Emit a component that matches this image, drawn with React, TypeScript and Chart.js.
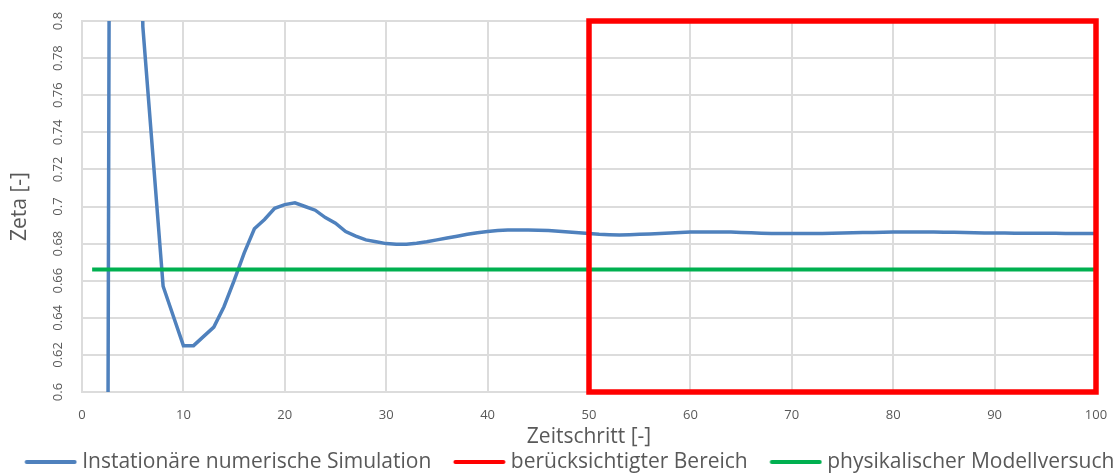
import React, { useEffect, useRef } from 'react';
import { Chart, registerables } from 'chart.js';

Chart.register(...registerables);

// ---------- data ----------
const simulationSteps = [
  2, 3, 4, 5, 6, 7, 8, 9, 10, 11, 12, 13, 14, 15, 16, 17, 18, 19, 20, 21,
  22, 23, 24, 25, 26, 27, 28, 29, 30, 31, 32, 33, 34, 35, 36, 37, 38, 39, 40, 41,
  42, 43, 44, 45, 46, 47, 48, 49, 50, 51, 52, 53, 54, 55, 56, 57, 58, 59, 60, 61,
  62, 63, 64, 65, 66, 67, 68, 69, 70, 71, 72, 73, 74, 75, 76, 77, 78, 79, 80, 81,
  82, 83, 84, 85, 86, 87, 88, 89, 90, 91, 92, 93, 94, 95, 96, 97, 98, 99, 100,
];
const simulationZeta = [
  -0.54, 1.46, 1.55, 1.15, 0.797, 0.727, 0.657, 0.641, 0.625, 0.625,
  0.63, 0.635, 0.646, 0.66, 0.675, 0.688, 0.693, 0.699, 0.701, 0.702,
  0.7, 0.698, 0.694, 0.691, 0.6865, 0.684, 0.682, 0.681, 0.68, 0.6796,
  0.6796, 0.6802, 0.681, 0.682, 0.683, 0.684, 0.685, 0.6858, 0.6865, 0.687,
  0.6873, 0.6873, 0.6873, 0.6872, 0.687, 0.6866, 0.6862, 0.6858, 0.6854, 0.685,
  0.6848, 0.6847, 0.6848, 0.685, 0.6852, 0.6854, 0.6857, 0.686, 0.6862, 0.6862,
  0.6862, 0.6862, 0.6862, 0.686, 0.6858, 0.6856, 0.6855, 0.6855, 0.6855, 0.6855,
  0.6855, 0.6855, 0.6856, 0.6857, 0.6858, 0.686, 0.686, 0.6861, 0.6862, 0.6862,
  0.6862, 0.6862, 0.6862, 0.6861, 0.6861, 0.686, 0.6858, 0.6857, 0.6857, 0.6857,
  0.6856, 0.6856, 0.6856, 0.6856, 0.6856, 0.6855, 0.6855, 0.6855, 0.6855,
];

const regionSteps = [50, 50, 100, 100, 50];
const regionZeta = [0.6, 0.8, 0.8, 0.6, 0.6];

const modelSteps = [1, 100];
const modelZeta = [0.666, 0.666];

const seriesLabels = [
  'Instationäre numerische Simulation',
  'berücksichtigter Bereich',
  'physikalischer Modellversuch',
];

const xTicks = [0, 10, 20, 30, 40, 50, 60, 70, 80, 90, 100];
const xTickLabels = ['0', '10', '20', '30', '40', '50', '60', '70', '80', '90', '100'];
const yTicks = [0.6, 0.62, 0.64, 0.66, 0.68, 0.7, 0.72, 0.74, 0.76, 0.78, 0.8];
const yTickLabels = ['0.6', '0.62', '0.64', '0.66', '0.68', '0.7', '0.72', '0.74', '0.76', '0.78', '0.8'];

// ---------- styles ----------
const FONT = "'Open Sans', sans-serif";
const TEXT = '#595959';
const GRID = '#dcdcdc';
const BLUE = '#4f81bd';
const RED = '#ff0000';
const GREEN = '#00b050';

function legendLine(color: string): HTMLCanvasElement {
  const c = document.createElement('canvas');
  c.width = 80;
  c.height = 8;
  const ctx = c.getContext('2d');
  if (ctx) {
    ctx.strokeStyle = color;
    ctx.lineWidth = 4;
    ctx.lineCap = 'round';
    ctx.beginPath();
    ctx.moveTo(29.5, 4);
    ctx.lineTo(77.5, 4);
    ctx.stroke();
  }
  return c;
}

const zip = (xs: number[], ys: number[]) => xs.map((x, i) => ({ x, y: ys[i] }));

export default function App() {
  const ref = useRef<HTMLCanvasElement | null>(null);

  useEffect(() => {
    document.body.style.margin = '0';
    const canvas = ref.current;
    if (!canvas) return;
    const chart = new Chart(canvas, {
      type: 'line',
      data: {
        datasets: [
          {
            label: seriesLabels[0],
            data: zip(simulationSteps, simulationZeta),
            borderColor: BLUE,
            backgroundColor: BLUE,
            borderWidth: 3.5,
            pointRadius: 0,
            tension: 0,
            clip: 0,
            order: 3,
            pointStyle: legendLine(BLUE),
          },
          {
            label: seriesLabels[1],
            data: zip(regionSteps, regionZeta),
            borderColor: RED,
            backgroundColor: RED,
            borderWidth: 5.5,
            borderJoinStyle: 'miter',
            borderCapStyle: 'square',
            pointRadius: 0,
            tension: 0,
            clip: false,
            order: 1,
            pointStyle: legendLine(RED),
          },
          {
            label: seriesLabels[2],
            data: zip(modelSteps, modelZeta),
            borderColor: GREEN,
            backgroundColor: GREEN,
            borderWidth: 4,
            pointRadius: 0,
            tension: 0,
            order: 2,
            pointStyle: legendLine(GREEN),
          },
        ],
      },
      options: {
        responsive: false,
        animation: false,
        events: [],
        layout: { padding: { top: 21, left: 0, right: 0, bottom: -7.5 } },
        plugins: {
          tooltip: { enabled: false },
          legend: {
            position: 'bottom',
            labels: {
              usePointStyle: true,
              pointStyleWidth: 69,
              padding: 0,
              color: TEXT,
              font: { family: FONT, size: 21 },
              sort: (a: any, b: any) => a.datasetIndex - b.datasetIndex,
            },
          },
        },
        scales: {
          x: {
            type: 'linear',
            min: 0,
            max: 100,
            afterBuildTicks: (s: any) => {
              s.ticks = xTicks.map((v) => ({ value: v }));
            },
            afterFit: (s: any) => {
              s.height = 59.5;
              s.paddingLeft = 0;
              s.paddingRight = 0;
            },
            ticks: {
              color: TEXT,
              font: { family: FONT, size: 13 },
              padding: 15,
              maxRotation: 0,
              callback: (_v: any, i: number) => xTickLabels[i],
            },
            grid: { color: GRID, lineWidth: 2, drawTicks: false },
            border: { color: GRID, width: 2 },
            title: {
              display: true,
              text: 'Zeitschritt [-]',
              color: TEXT,
              font: { family: FONT, size: 21 },
              padding: { top: 0, bottom: 2 },
            },
          },
          y: {
            type: 'linear',
            position: 'left',
            min: 0.6,
            max: 0.8,
            afterBuildTicks: (s: any) => {
              s.ticks = yTicks.map((v) => ({ value: v }));
            },
            afterFit: (s: any) => {
              s.width = 82;
              s.paddingTop = 0;
              s.paddingBottom = 0;
            },
            ticks: {
              color: TEXT,
              font: { family: FONT, size: 13 },
              padding: 11,
              minRotation: 90,
              maxRotation: 90,
              crossAlign: 'center',
              callback: (_v: any, i: number) => yTickLabels[i],
            },
            grid: { color: GRID, lineWidth: 2, drawTicks: false },
            border: { color: GRID, width: 2 },
            title: {
              display: true,
              text: 'Zeta [-]',
              color: TEXT,
              font: { family: FONT, size: 21 },
              padding: { top: 7, bottom: 0 },
            },
          },
          yR: {
            type: 'linear',
            position: 'right',
            display: true,
            grid: { display: false },
            ticks: { display: false },
            border: { display: false },
            afterFit: (s: any) => {
              s.width = 21;
            },
          },
        },
      } as any,
    });
    return () => chart.destroy();
  }, []);

  return (
    <div style={{ position: 'relative', width: 1117, height: 475 }}>
      <canvas ref={ref} width={1117} height={475} />
    </div>
  );
}
